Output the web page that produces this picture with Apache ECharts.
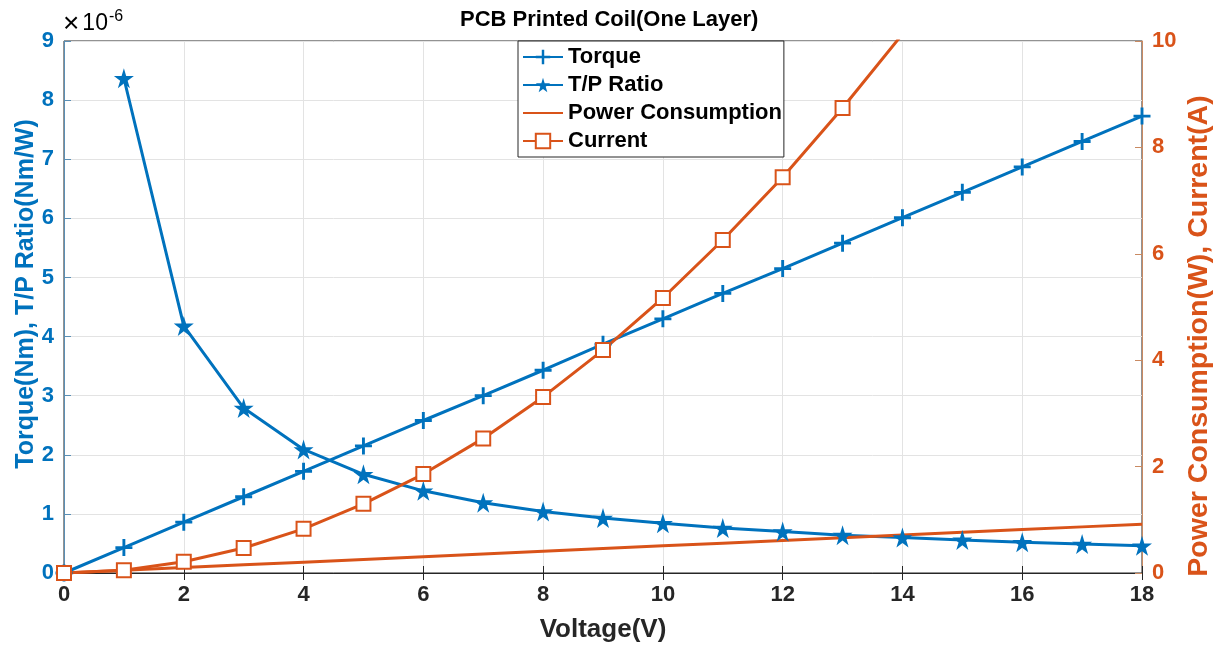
<!DOCTYPE html>
<html>
<head>
<meta charset="utf-8">
<script src="https://cdn.jsdelivr.net/npm/echarts@6/dist/echarts.min.js"></script>
<style>
html,body{margin:0;padding:0;background:#fff;}
#main{width:1228px;height:653px;}
</style>
</head>
<body>
<div id="main"></div>
<script type="text/javascript">
// data
var volts = [0,1,2,3,4,5,6,7,8,9,10,11,12,13,14,15,16,17,18];
var torque = [0,0.43,0.86,1.29,1.72,2.15,2.58,3.00,3.43,3.87,4.30,4.73,5.15,5.58,6.01,6.44,6.87,7.30,7.73];
var tpRatio = [null,8.37,4.18,2.79,2.09,1.67,1.39,1.19,1.04,0.93,0.84,0.76,0.70,0.64,0.60,0.56,0.52,0.49,0.46];
var power = [0,0.051,0.102,0.153,0.204,0.255,0.306,0.357,0.408,0.459,0.51,0.561,0.612,0.663,0.714,0.765,0.816,0.867,0.918];
var current = [0,0.05,0.21,0.47,0.83,1.30,1.86,2.53,3.31,4.19,5.17,6.26,7.44,8.74,10.13,11.63,13.23,14.94,16.75];

var BLUE = '#0072BD';
var ORANGE = '#D95319';
var FONT = 'Liberation Sans, Arial, sans-serif';

var plusPath = 'path://M8.3,0 L11.7,0 L11.7,8.3 L20,8.3 L20,11.7 L11.7,11.7 L11.7,20 L8.3,20 L8.3,11.7 L0,11.7 L0,8.3 L8.3,8.3 Z';
var starPath = 'path://M50,0 L61,35 L98,35 L68,57 L79,91 L50,70 L21,91 L32,57 L2,35 L39,35 Z';

function pairs(ys){
    var out = [];
    for(var i = 0;i<volts.length;i++){
        out.push(ys[i] == null ? [volts[i], '-'] : [volts[i], ys[i]]);
    }
    return out;
}

var myChart = echarts.init(document.getElementById('main'));

var option = {
    backgroundColor:'#fff',
    animation:false,
    title:{
        text:'PCB Printed Coil(One Layer)',
        left:455,
        top:4,
        textStyle:{fontFamily:FONT,fontSize:22,fontWeight:'bold',color:'#000'}
    },
    graphic:[{
        type:'text',
        left:63,
        top:9,
        style:{
            text:'{x|×}{a|10}{b|-6}',
            rich:{
                x:{fontFamily:FONT,fontSize:28,color:'#5a7f9e',padding:[0,3,0,0]},
                a:{fontFamily:FONT,fontSize:23,color:'#2a7cc0'},
                b:{fontFamily:FONT,fontSize:16,color:'#2a7cc0',padding:[0,0,14,1]}
            }
        }
    },{
        // left axis title
        type:'text',
        x:26,
        y:294,
        rotation:Math.PI/2,
        style:{
            text:'Torque(Nm), T/P Ratio(Nm/W)',
            fontFamily:FONT,fontSize:25,fontWeight:'bold',fill:BLUE,
            align:'center',verticalAlign:'middle'
        }
    },{
        // right axis title
        type:'text',
        x:1199,
        y:336,
        rotation:Math.PI/2,
        style:{
            text:'Power Consumption(W), Current(A)',
            fontFamily:FONT,fontSize:28.5,fontWeight:'bold',fill:ORANGE,
            align:'center',verticalAlign:'middle'
        }
    }],
    legend:{
        orient:'vertical',
        left:518,
        top:41,
        itemWidth:40,
        itemHeight:18,
        itemGap:4,
        padding:[4,2,4,4],
        backgroundColor:'#fff',
        borderColor:'#262626',
        borderWidth:1,
        textStyle:{fontFamily:FONT,fontSize:22,fontWeight:'bold',color:'#000',lineHeight:24},
        data:['Torque','T/P Ratio',{name:'Power Consumption',itemStyle:{opacity:0}},'Current']
    },
    grid:{
        left:64,
        right:86,
        top:41,
        bottom:80,
        show:true,
        borderColor:'#262626',
        borderWidth:1
    },
    xAxis:[{
        type:'value',
        min:0,
        max:18,
        interval:2,
        name:'Voltage(V)',
        nameLocation:'middle',
        nameGap:44,
        nameTextStyle:{fontFamily:FONT,fontSize:26,fontWeight:'bold',color:'#262626'},
        axisLine:{lineStyle:{color:'#262626',width:1}},
        axisTick:{inside:true,length:7,lineStyle:{color:'#262626'}},
        axisLabel:{fontFamily:FONT,fontSize:22,fontWeight:'bold',color:'#262626',margin:11},
        splitLine:{show:true,lineStyle:{color:'#e3e3e3'}}
    },{
        type:'value',
        position:'top',
        min:0,
        max:18,
        interval:2,
        axisLine:{lineStyle:{color:'#262626'}},
        axisTick:{inside:true,length:7,lineStyle:{color:'#262626'}},
        axisLabel:{show:false},
        splitLine:{show:false}
    }],
    yAxis:[{
        type:'value',
        min:0,
        max:9,
        interval:1,
        position:'left',
        axisLine:{show:true,onZero:false,lineStyle:{color:'#5a8fb5',width:1}},
        axisTick:{show:true,inside:true,length:7,lineStyle:{color:'#5a8fb5'}},
        axisLabel:{fontFamily:FONT,fontSize:22,fontWeight:'bold',color:BLUE,margin:10},
        splitLine:{show:true,lineStyle:{color:'#e3e3e3'}}
    },{
        type:'value',
        min:0,
        max:10,
        interval:2,
        position:'right',
        axisLine:{show:true,onZero:false,lineStyle:{color:'#c98a62',width:1}},
        axisTick:{show:true,inside:true,length:7,lineStyle:{color:'#c98a62'}},
        axisLabel:{fontFamily:FONT,fontSize:22,fontWeight:'bold',color:ORANGE,margin:10},
        splitLine:{show:false}
    }],
    series:[{
        name:'Torque',
        type:'line',
        xAxisIndex:0,
        yAxisIndex:0,
        data:pairs(torque),
        symbol:plusPath,
        symbolSize:17,
        itemStyle:{color:BLUE},
        lineStyle:{color:BLUE,width:3}
    },{
        name:'T/P Ratio',
        type:'line',
        xAxisIndex:0,
        yAxisIndex:0,
        data:pairs(tpRatio),
        symbol:starPath,
        symbolSize:20,
        itemStyle:{color:BLUE},
        lineStyle:{color:BLUE,width:3}
    },{
        name:'Power Consumption',
        type:'line',
        xAxisIndex:0,
        yAxisIndex:1,
        data:pairs(power),
        showSymbol:false,
        symbol:'none',
        itemStyle:{color:ORANGE},
        lineStyle:{color:ORANGE,width:3}
    },{
        name:'Current',
        type:'line',
        xAxisIndex:0,
        yAxisIndex:1,
        data:pairs(current),
        symbol:'emptyRect',
        symbolSize:14,
        itemStyle:{color:ORANGE,borderColor:ORANGE,borderWidth:2},
        lineStyle:{color:ORANGE,width:3}
    }]
};
myChart.setOption(option);
</script>
</body>
</html>
